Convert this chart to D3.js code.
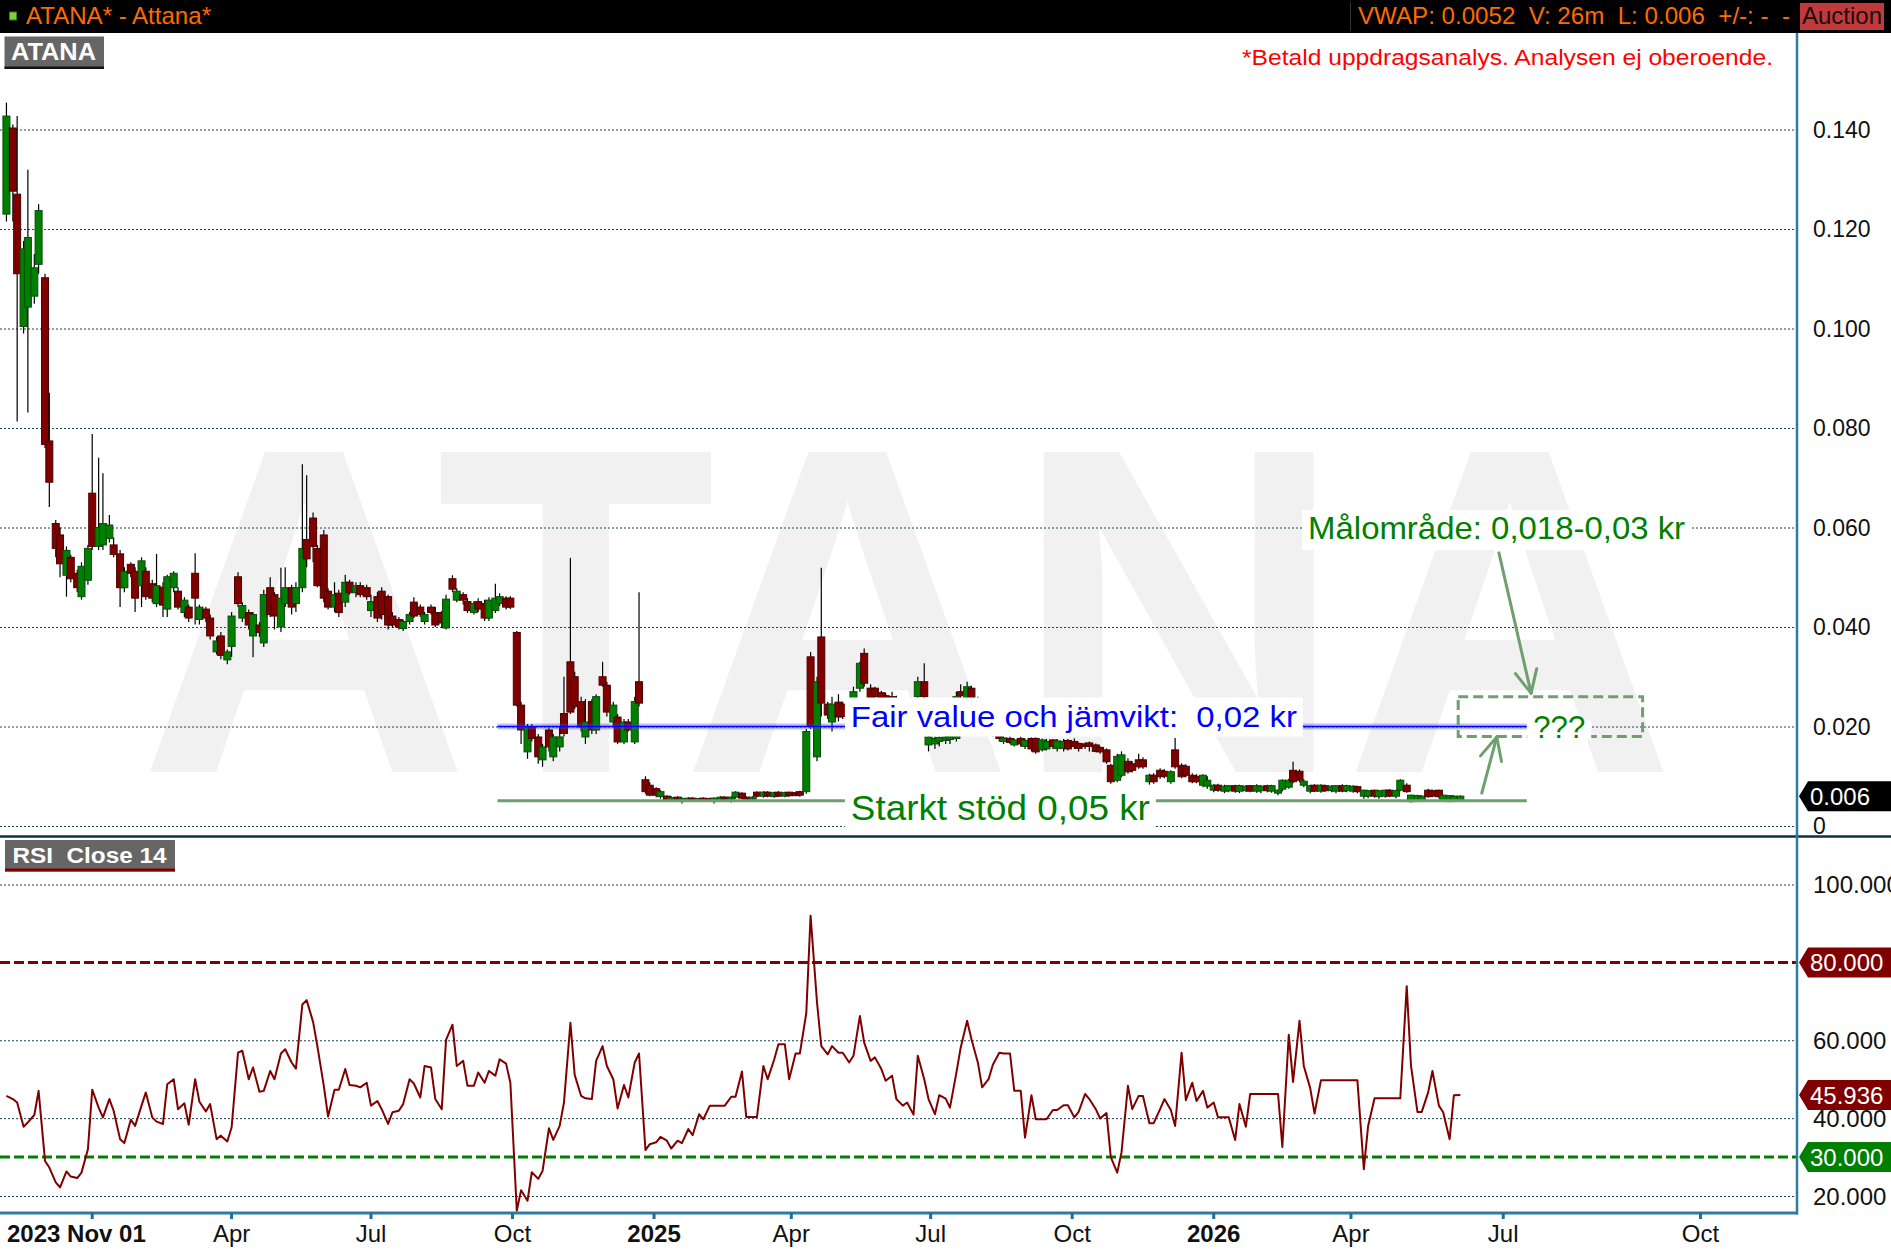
<!DOCTYPE html>
<html>
<head>
<meta charset="utf-8">
<script src="https://cdn.jsdelivr.net/npm/d3@7"></script>
<style>
  html, body { margin: 0; padding: 0; background: #fff; }
  svg { display: block; font-family: "Liberation Sans", Arial, sans-serif; }
</style>
</head>
<body>
<div id="chart"></div>
<script>
// ── Data ────────────────────────────────────────────────────────────────
const TICKER       = "ATANA";
const TITLE        = "ATANA* - Attana*";
const QUOTE_LINE   = "VWAP: 0.0052  V: 26m  L: 0.006  +/-: -  -";
const STATUS       = "Auction";
const NOTE         = "*Betald uppdragsanalys. Analysen ej oberoende.";
const RSI_TITLE    = "RSI  Close 14";

const START_DATE   = "2023-11-01";
const LAST_TRADE   = "2026-06-10";
const END_DATE     = "2026-11-15";
const CANDLE_FIRST = "2023-11-06";
const CANDLE_STOP  = "2026-06-12";

const START_LABEL  = "2023 Nov 01";
const TICK_DATES   = ["2024-01-01", "2024-04-01", "2024-07-01", "2024-10-01", "2025-01-01", "2025-04-01",
                      "2025-07-01", "2025-10-01", "2026-01-01", "2026-04-01", "2026-07-01", "2026-10-01"];
const TICK_LABELS  = ["", "Apr", "Jul", "Oct", "2025", "Apr", "Jul", "Oct", "2026", "Apr", "Jul", "Oct"];

const PRICE_TICKS  = [0, 0.02, 0.04, 0.06, 0.08, 0.10, 0.12, 0.14];
const RSI_TICKS    = [20, 40, 60, 100];
const RSI_HIGH     = 80;
const RSI_LOW      = 30;
const LAST_PRICE   = 0.006;
const LAST_RSI     = 45.936;

// candles, Monday + Thursday sessions: [open, high, low, close]
const PRICE_2023 = [
  [0.1230,0.1454,0.1215,0.1427],[0.1403,0.1410,0.1215,0.1276],[0.1270,0.1427,0.0813,0.1110],[0.1004,0.1176,0.0990,0.1160],
  [0.1043,0.1319,0.0831,0.1183],[0.1065,0.1150,0.1050,0.1122],[0.1129,0.1250,0.1110,0.1237],[0.1102,0.1110,0.0760,0.0767],
  [0.0774,0.0871,0.0641,0.0691],[0.0608,0.0615,0.0540,0.0558],[0.0585,0.0600,0.0500,0.0527],[0.0504,0.0562,0.0461,0.0554],
  [0.0540,0.0545,0.0490,0.0497],[0.0508,0.0515,0.0470,0.0479],[0.0461,0.0530,0.0455,0.0522],[0.0494,0.0565,0.0485,0.0558]
];
const PRICE_2024 = [
  [0.0669,0.0788,0.0555,0.0562],[0.0562,0.0740,0.0555,0.0600],[0.0565,0.0709,0.0555,0.0608],[0.0578,0.0625,0.0570,0.0605],
  [0.0565,0.0580,0.0540,0.0546],[0.0547,0.0555,0.0440,0.0479],[0.0479,0.0520,0.0470,0.0512],[0.0526,0.0530,0.0500,0.0508],
  [0.0512,0.0520,0.0430,0.0458],[0.0483,0.0540,0.0440,0.0533],[0.0512,0.0520,0.0455,0.0461],[0.0487,0.0495,0.0450,0.0458],
  [0.0447,0.0547,0.0440,0.0483],[0.0480,0.0490,0.0420,0.0444],[0.0436,0.0505,0.0420,0.0501],[0.0479,0.0512,0.0470,0.0508],
  [0.0472,0.0480,0.0435,0.0440],[0.0429,0.0460,0.0420,0.0454],[0.0440,0.0445,0.0410,0.0418],[0.0508,0.0548,0.0405,0.0458],
  [0.0415,0.0445,0.0405,0.0440],[0.0436,0.0440,0.0410,0.0418],[0.0418,0.0425,0.0375,0.0382],[0.0350,0.0380,0.0345,0.0372],
  [0.0382,0.0390,0.0335,0.0343],[0.0334,0.0355,0.0325,0.0350],[0.0361,0.0430,0.0340,0.0422],[0.0501,0.0510,0.0440,0.0447],
  [0.0418,0.0450,0.0410,0.0443],[0.0429,0.0435,0.0395,0.0404],[0.0382,0.0430,0.0339,0.0425],[0.0404,0.0410,0.0380,0.0389],
  [0.0368,0.0475,0.0360,0.0465],[0.0479,0.0500,0.0420,0.0425],[0.0465,0.0470,0.0395,0.0422],[0.0400,0.0519,0.0390,0.0458],
  [0.0447,0.0520,0.0440,0.0479],[0.0479,0.0485,0.0425,0.0440],[0.0447,0.0490,0.0430,0.0479],[0.0479,0.0727,0.0470,0.0558],
  [0.0576,0.0705,0.0520,0.0537],[0.0619,0.0630,0.0530,0.0562],[0.0558,0.0565,0.0480,0.0483],[0.0585,0.0595,0.0450,0.0458],
  [0.0472,0.0478,0.0435,0.0440],[0.0440,0.0490,0.0430,0.0465],[0.0468,0.0475,0.0420,0.0429],[0.0450,0.0505,0.0440,0.0490],
  [0.0490,0.0495,0.0465,0.0469],[0.0469,0.0490,0.0460,0.0483],[0.0483,0.0490,0.0460,0.0465],[0.0479,0.0485,0.0455,0.0461],
  [0.0433,0.0465,0.0420,0.0451],[0.0461,0.0470,0.0410,0.0418],[0.0472,0.0480,0.0415,0.0425],[0.0461,0.0465,0.0395,0.0404],
  [0.0422,0.0430,0.0398,0.0404],[0.0415,0.0420,0.0395,0.0400],[0.0397,0.0415,0.0392,0.0411],[0.0411,0.0430,0.0405,0.0425],
  [0.0450,0.0460,0.0418,0.0422],[0.0440,0.0445,0.0420,0.0425],[0.0411,0.0430,0.0405,0.0425],[0.0440,0.0445,0.0425,0.0429],
  [0.0429,0.0440,0.0400,0.0404],[0.0429,0.0432,0.0398,0.0408],[0.0398,0.0465,0.0395,0.0456],[0.0497,0.0504,0.0470,0.0476],
  [0.0454,0.0478,0.0450,0.0472],[0.0465,0.0470,0.0445,0.0454],[0.0451,0.0458,0.0428,0.0433],[0.0429,0.0452,0.0425,0.0447],
  [0.0451,0.0458,0.0430,0.0436],[0.0447,0.0455,0.0412,0.0418],[0.0418,0.0460,0.0412,0.0454],[0.0433,0.0487,0.0428,0.0458],
  [0.0447,0.0468,0.0442,0.0461],[0.0458,0.0462,0.0435,0.0440],[0.0458,0.0462,0.0436,0.0440],[0.0389,0.0392,0.0240,0.0243],
  [0.0243,0.0250,0.0165,0.0193],[0.0149,0.0205,0.0135,0.0199],[0.0199,0.0205,0.0170,0.0176],[0.0179,0.0185,0.0125,0.0139],
  [0.0133,0.0165,0.0119,0.0159],[0.0193,0.0198,0.0150,0.0159],[0.0139,0.0185,0.0130,0.0179],[0.0159,0.0200,0.0150,0.0179],
  [0.0226,0.0300,0.0180,0.0186],[0.0330,0.0539,0.0225,0.0229],[0.0300,0.0310,0.0235,0.0240],[0.0250,0.0260,0.0190,0.0199],
  [0.0179,0.0255,0.0165,0.0209],[0.0250,0.0255,0.0185,0.0193],[0.0193,0.0265,0.0185,0.0260],[0.0300,0.0330,0.0280,0.0283],
  [0.0283,0.0290,0.0220,0.0229],[0.0209,0.0250,0.0200,0.0243],[0.0219,0.0225,0.0165,0.0169],[0.0169,0.0215,0.0165,0.0209],
  [0.0209,0.0215,0.0190,0.0193],[0.0169,0.0260,0.0165,0.0250],[0.0290,0.0470,0.0240,0.0247],[0.0093,0.0100,0.0065,0.0069],
  [0.0082,0.0088,0.0060,0.0062]
];
const PRICE_2025 = [
  [0.0075,0.0078,0.0058,0.0062],[0.0059,0.0072,0.0055,0.0069],[0.0060,0.0062,0.0050,0.0053],[0.0053,0.0060,0.0050,0.0057],
  [0.0058,0.0060,0.0048,0.0052],[0.0050,0.0058,0.0045,0.0055],[0.0052,0.0058,0.0048,0.0056],[0.0056,0.0058,0.0050,0.0052],
  [0.0051,0.0057,0.0048,0.0055],[0.0056,0.0058,0.0049,0.0053],[0.0055,0.0057,0.0048,0.0052],[0.0052,0.0058,0.0045,0.0056],
  [0.0054,0.0060,0.0050,0.0058],[0.0058,0.0060,0.0048,0.0055],[0.0055,0.0060,0.0047,0.0058],[0.0058,0.0070,0.0055,0.0068],
  [0.0066,0.0068,0.0054,0.0056],[0.0058,0.0060,0.0048,0.0055],[0.0055,0.0060,0.0050,0.0058],[0.0068,0.0070,0.0058,0.0060],
  [0.0060,0.0070,0.0057,0.0068],[0.0068,0.0070,0.0058,0.0060],[0.0059,0.0069,0.0057,0.0067],[0.0068,0.0070,0.0059,0.0060],
  [0.0060,0.0069,0.0058,0.0067],[0.0068,0.0069,0.0059,0.0061],[0.0067,0.0069,0.0060,0.0061],[0.0069,0.0071,0.0059,0.0062],
  [0.0069,0.0195,0.0065,0.0190],[0.0340,0.0350,0.0195,0.0200],[0.0139,0.0300,0.0130,0.0290],[0.0380,0.0519,0.0220,0.0247],
  [0.0245,0.0250,0.0215,0.0223],[0.0209,0.0260,0.0190,0.0245],[0.0249,0.0265,0.0210,0.0219],[0.0245,0.0250,0.0215,0.0220],
  [0.0220,0.0255,0.0210,0.0245],[0.0240,0.0280,0.0235,0.0270],[0.0277,0.0330,0.0270,0.0327],[0.0347,0.0357,0.0280,0.0287],
  [0.0277,0.0285,0.0250,0.0256],[0.0277,0.0280,0.0255,0.0260],[0.0268,0.0272,0.0250,0.0256],[0.0262,0.0268,0.0245,0.0250],
  [0.0260,0.0270,0.0245,0.0250],[0.0255,0.0262,0.0240,0.0245],[0.0230,0.0250,0.0220,0.0245],[0.0245,0.0250,0.0220,0.0225],
  [0.0240,0.0245,0.0215,0.0220],[0.0260,0.0300,0.0255,0.0290],[0.0290,0.0327,0.0255,0.0260],[0.0163,0.0185,0.0150,0.0179],
  [0.0165,0.0180,0.0155,0.0176],[0.0170,0.0180,0.0160,0.0178],[0.0172,0.0182,0.0165,0.0179],[0.0174,0.0183,0.0165,0.0180],
  [0.0176,0.0270,0.0170,0.0260],[0.0270,0.0285,0.0250,0.0262],[0.0256,0.0290,0.0250,0.0280],[0.0277,0.0282,0.0250,0.0256],
  [0.0255,0.0260,0.0230,0.0235],[0.0235,0.0240,0.0215,0.0220],[0.0220,0.0225,0.0195,0.0200],[0.0200,0.0205,0.0180,0.0185],
  [0.0185,0.0190,0.0170,0.0176],[0.0170,0.0180,0.0165,0.0177],[0.0176,0.0180,0.0165,0.0168],[0.0163,0.0176,0.0160,0.0173],
  [0.0176,0.0180,0.0160,0.0165],[0.0160,0.0176,0.0155,0.0172],[0.0176,0.0178,0.0150,0.0155],[0.0176,0.0178,0.0145,0.0149],
  [0.0153,0.0176,0.0150,0.0173],[0.0155,0.0175,0.0152,0.0170],[0.0173,0.0175,0.0155,0.0160],[0.0156,0.0175,0.0150,0.0171],
  [0.0156,0.0175,0.0150,0.0170],[0.0172,0.0175,0.0152,0.0155],[0.0170,0.0176,0.0155,0.0160],[0.0166,0.0168,0.0150,0.0156],
  [0.0165,0.0168,0.0155,0.0160],[0.0167,0.0170,0.0150,0.0160],[0.0163,0.0166,0.0148,0.0150],[0.0158,0.0160,0.0145,0.0149],
  [0.0153,0.0156,0.0125,0.0129],[0.0122,0.0125,0.0085,0.0089],[0.0092,0.0145,0.0088,0.0140],[0.0102,0.0150,0.0098,0.0143],
  [0.0130,0.0136,0.0105,0.0109],[0.0125,0.0130,0.0108,0.0112],[0.0133,0.0145,0.0115,0.0119],[0.0133,0.0138,0.0115,0.0119],
  [0.0089,0.0105,0.0082,0.0102],[0.0102,0.0106,0.0085,0.0089],[0.0112,0.0116,0.0095,0.0099],[0.0110,0.0114,0.0096,0.0100],
  [0.0089,0.0112,0.0085,0.0109],[0.0153,0.0177,0.0115,0.0119],[0.0122,0.0126,0.0096,0.0099],[0.0120,0.0124,0.0098,0.0102],
  [0.0102,0.0106,0.0086,0.0089],[0.0100,0.0104,0.0086,0.0089],[0.0082,0.0104,0.0078,0.0102],[0.0080,0.0100,0.0075,0.0092]
];
const PRICE_2026 = [
  [0.0072,0.0084,0.0068,0.0082],[0.0082,0.0085,0.0069,0.0072],[0.0070,0.0083,0.0066,0.0080],[0.0071,0.0082,0.0068,0.0081],
  [0.0081,0.0083,0.0067,0.0070],[0.0070,0.0083,0.0066,0.0081],[0.0071,0.0082,0.0069,0.0080],[0.0081,0.0082,0.0068,0.0070],
  [0.0070,0.0084,0.0067,0.0081],[0.0071,0.0082,0.0066,0.0080],[0.0081,0.0083,0.0068,0.0071],[0.0070,0.0083,0.0067,0.0081],
  [0.0066,0.0074,0.0062,0.0072],[0.0074,0.0094,0.0070,0.0092],[0.0078,0.0095,0.0075,0.0092],[0.0112,0.0129,0.0086,0.0089],
  [0.0110,0.0114,0.0088,0.0092],[0.0082,0.0094,0.0078,0.0090],[0.0070,0.0083,0.0066,0.0081],[0.0082,0.0084,0.0068,0.0070],
  [0.0070,0.0084,0.0067,0.0082],[0.0081,0.0083,0.0069,0.0071],[0.0071,0.0082,0.0068,0.0080],[0.0070,0.0082,0.0066,0.0081],
  [0.0081,0.0084,0.0068,0.0070],[0.0071,0.0083,0.0068,0.0081],[0.0070,0.0082,0.0067,0.0080],[0.0079,0.0081,0.0066,0.0069],
  [0.0060,0.0073,0.0055,0.0072],[0.0060,0.0072,0.0056,0.0071],[0.0072,0.0073,0.0057,0.0060],[0.0059,0.0072,0.0055,0.0071],
  [0.0060,0.0073,0.0057,0.0072],[0.0072,0.0074,0.0058,0.0060],[0.0060,0.0073,0.0056,0.0071],[0.0072,0.0094,0.0070,0.0092],
  [0.0082,0.0086,0.0067,0.0069],[0.0049,0.0063,0.0047,0.0062],[0.0050,0.0063,0.0048,0.0061],[0.0051,0.0062,0.0048,0.0060],
  [0.0072,0.0075,0.0057,0.0059],[0.0071,0.0073,0.0058,0.0060],[0.0072,0.0073,0.0056,0.0059],[0.0050,0.0063,0.0048,0.0062],
  [0.0049,0.0062,0.0048,0.0061],[0.0050,0.0062,0.0048,0.0060],[0.0050,0.0062,0.0048,0.0060]
];

// RSI(14) on the same sessions
const RSI_2023 = [45.7,44.9,44.0,37.8,38.9,40.8,47.0,29.0,27.3,23.5,22.2,26.3,25.0,24.6,26.0,32.0];
const RSI_2024 = [
  47.3,42.7,40.2,44.9,41.9,34.6,33.6,39.6,38.0,43.2,46.6,40.2,39.1,38.5,48.7,50.0,42.3,43.8,38.3,50.0,
  44.2,41.7,43.6,34.6,35.5,34.0,37.6,56.8,57.3,50.0,53.0,46.8,47.0,52.1,50.0,56.6,57.7,54.3,52.7,69.2,
  70.3,64.7,58.5,48.3,40.4,47.3,47.3,52.6,48.5,48.3,47.9,49.1,43.2,44.4,42.3,38.5,41.5,41.9,43.6,50.0,
  48.9,45.3,53.4,53.0,44.9,42.3,60.1,64.0,53.4,54.7,48.3,48.3,51.7,49.1,52.1,50.9,55.1,54.0,49.1,16.2,
  21.5,18.8,26.1,24.4,26.4,37.4,34.4,38.0,44.0,64.5,51.1,45.7,45.1,44.9,54.7,58.5,53.4,50.0,42.5,48.5,
  45.3,54.3,56.6,31.8,33.3
];
const RSI_2025 = [
  33.8,35.2,34.2,32.2,34.2,33.6,37.2,35.6,41.0,39.7,43.2,43.2,43.2,43.2,45.5,45.5,52.0,40.3,40.3,40.3,
  53.4,50.0,55.0,59.0,59.0,50.0,56.6,56.6,67.0,92.0,69.7,58.5,56.4,58.5,56.8,56.8,54.3,56.0,66.2,59.4,
  54.7,55.6,52.6,49.6,50.9,44.9,43.2,44.0,40.9,56.0,50.0,44.9,41.0,45.9,45.0,42.7,51.7,58.1,65.0,60.3,
  54.3,47.9,50.0,53.7,56.8,56.6,56.6,47.0,47.0,35.0,45.9,39.7,39.7,39.7,42.1,42.1,43.3,43.3,40.2,41.6,
  46.2,44.9,42.3,39.9,41.3,30.0,26.0,31.2,48.3,42.3,45.7,45.7,38.7,38.7,42.3,44.9,42.1,38.0,56.8,44.6,
  49.1,44.4,47.0,42.7
];
const RSI_2026 = [
  44.0,40.2,40.2,40.2,34.4,43.6,37.8,46.2,46.2,46.2,46.2,46.2,46.2,32.6,61.4,49.3,65.0,53.4,47.7,41.2,
  49.7,49.7,49.7,49.7,49.7,49.7,49.7,49.7,26.9,38.0,45.1,45.1,45.1,45.1,45.1,45.1,73.9,53.4,41.6,41.6,
  46.6,52.1,43.2,41.5,34.6,45.9,45.936
];

// drawn analysis
const FAIR_VALUE     = 0.02;
const SUPPORT        = 0.0051;
const LEVEL_FROM     = "2024-09-20";
const LEVEL_TO       = "2026-07-12";
const LEVEL_LABEL_AT = "2025-05-06";
const FAIR_LABEL     = "Fair value och jämvikt:  0,02 kr";
const SUPPORT_LABEL  = "Starkt stöd 0,05 kr";
const TARGET_LABEL   = "Målområde: 0,018-0,03 kr";
const TARGET_AT      = "2026-03-04";
const TARGET_PRICE   = 0.06;
const ZONE_DATES     = ["2026-06-10", "2026-09-04"];
const ZONE_PRICES    = [0.018, 0.026];
const QUESTION       = "???";
const QUESTION_AT    = "2026-07-15";
const ARROW_DOWN     = [["2026-06-29", 0.0549], ["2026-07-14", 0.0267]];
const ARROW_UP       = [["2026-06-21", 0.0066], ["2026-06-28", 0.0179]];

// ── Layout ──────────────────────────────────────────────────────────────
const W = 1891, H = 1253;
const HEADER_H  = 33;
const PLOT_R    = 1797;
const PRICE_BOT = 836;
const RSI_TOP   = 838;
const RSI_BOT   = 1213;
const LABEL_X   = 1810;

const GRID    = "#1b4456";
const AXIS    = "#2f7ca3";
const UP      = "#008000", UP_EDGE = "#0a4a0a";
const DOWN    = "#800000", DOWN_EDGE = "#4a0000";
const NOTE_GREEN = "#6e9f6e";

const parse = d3.timeParse("%Y-%m-%d");
const START = parse(START_DATE), LAST = parse(LAST_TRADE), END = parse(END_DATE);

// trading-day slots up to the last session, calendar days afterwards
const weekdays = d3.timeDay.range(START, d3.timeDay.offset(LAST, 1)).filter(d => d.getDay() % 6 !== 0);
const slotMap = new Map(weekdays.map((d, i) => [+d, i]));
function slot(d) {
  if (d > LAST) return weekdays.length - 1 + d3.timeDay.count(LAST, d);
  const s = slotMap.get(+d);
  return s !== undefined ? s : d3.bisectLeft(weekdays, d) - 0.5;
}
const x  = d3.scaleLinear().domain([0, slot(END)]).range([0, PLOT_R]);
const xd = d => x(slot(typeof d === "string" ? parse(d) : d));
const y  = d3.scaleLinear().domain([0, 0.14]).range([826, 129.5]);
const yr = d3.scaleLinear().domain([20, 100]).range([1196, 884.5]);

// sessions
const monThu = (a, b) => d3.merge([d3.timeMonday.range(a, b), d3.timeThursday.range(a, b)]).sort(d3.ascending);
const spans = [
  [CANDLE_FIRST, "2024-01-01", PRICE_2023, RSI_2023],
  ["2024-01-01", "2025-01-01", PRICE_2024, RSI_2024],
  ["2025-01-01", "2026-01-01", PRICE_2025, RSI_2025],
  ["2026-01-01", CANDLE_STOP,  PRICE_2026, RSI_2026]
];
const candles = [], rsi = [];
spans.forEach(([a, b, px, rs]) => {
  monThu(parse(a), parse(b)).forEach((d, i) => {
    if (px[i]) candles.push({ date: d, o: px[i][0], h: px[i][1], l: px[i][2], c: px[i][3] });
    if (rs[i] != null) rsi.push({ date: d, v: rs[i] });
  });
});

const svg = d3.select("#chart").append("svg")
  .attr("width", W).attr("height", H).attr("viewBox", `0 0 ${W} ${H}`);

const defs = svg.append("defs");
defs.append("clipPath").attr("id", "clipPrice")
  .append("rect").attr("x", 0).attr("y", HEADER_H).attr("width", PLOT_R).attr("height", PRICE_BOT - HEADER_H);
defs.append("clipPath").attr("id", "clipRsi")
  .append("rect").attr("x", 0).attr("y", RSI_TOP).attr("width", PLOT_R).attr("height", RSI_BOT - RSI_TOP);

svg.append("rect").attr("width", W).attr("height", H).attr("fill", "#fff");

// ── Price pane ──────────────────────────────────────────────────────────
const price = svg.append("g").attr("clip-path", "url(#clipPrice)");

price.append("text")
  .attr("x", 907).attr("y", 772)
  .attr("text-anchor", "middle")
  .attr("font-size", 465).attr("font-weight", 700)
  .attr("textLength", 1537).attr("lengthAdjust", "spacingAndGlyphs")
  .attr("fill", "#f1f1f1")
  .text(TICKER);

price.selectAll("line.grid").data(PRICE_TICKS).join("line")
  .attr("class", "grid")
  .attr("x1", 0).attr("x2", PLOT_R)
  .attr("y1", d => y(d) + 0.5).attr("y2", d => y(d) + 0.5)
  .attr("stroke", GRID).attr("stroke-width", 1).attr("stroke-dasharray", "2,2");

const cg = price.selectAll("g.candle").data(candles).join("g").attr("class", "candle");
cg.append("line")
  .attr("x1", d => xd(d.date)).attr("x2", d => xd(d.date))
  .attr("y1", d => y(d.h)).attr("y2", d => y(d.l))
  .attr("stroke", "#000").attr("stroke-width", 1.2);
cg.append("rect")
  .attr("x", d => xd(d.date) - 3.5).attr("width", 7)
  .attr("y", d => y(Math.max(d.o, d.c)))
  .attr("height", d => Math.max(2, Math.abs(y(d.o) - y(d.c))))
  .attr("fill", d => d.c >= d.o ? UP : DOWN)
  .attr("stroke", d => d.c >= d.o ? UP_EDGE : DOWN_EDGE).attr("stroke-width", 1);

// fair value line
const fx1 = xd(LEVEL_FROM), fx2 = xd(LEVEL_TO);
svg.append("line")
  .attr("x1", fx1).attr("x2", fx2).attr("y1", y(FAIR_VALUE)).attr("y2", y(FAIR_VALUE))
  .attr("stroke", "rgba(70,70,255,0.35)").attr("stroke-width", 6);
svg.append("line")
  .attr("x1", fx1).attr("x2", fx2).attr("y1", y(FAIR_VALUE)).attr("y2", y(FAIR_VALUE))
  .attr("stroke", "#0000ff").attr("stroke-width", 1.6);

// support line
svg.append("line")
  .attr("x1", fx1).attr("x2", fx2).attr("y1", y(SUPPORT)).attr("y2", y(SUPPORT))
  .attr("stroke", NOTE_GREEN).attr("stroke-width", 3);

// target zone
svg.append("rect")
  .attr("x", xd(ZONE_DATES[0])).attr("width", xd(ZONE_DATES[1]) - xd(ZONE_DATES[0]))
  .attr("y", y(ZONE_PRICES[1])).attr("height", y(ZONE_PRICES[0]) - y(ZONE_PRICES[1]))
  .attr("fill", "none").attr("stroke", NOTE_GREEN).attr("stroke-width", 3)
  .attr("stroke-dasharray", "10,5");

function boxedText(tx, baseline, txt, size, len, color, padTop, padBot) {
  svg.append("rect")
    .attr("x", tx - 6).attr("y", baseline - padTop)
    .attr("width", len + 12).attr("height", padTop + padBot)
    .attr("fill", "#fff");
  svg.append("text")
    .attr("x", tx).attr("y", baseline)
    .attr("font-size", size).attr("fill", color)
    .attr("xml:space", "preserve").style("white-space", "pre")
    .attr("textLength", len).attr("lengthAdjust", "spacingAndGlyphs")
    .text(txt);
}

const lx = xd(LEVEL_LABEL_AT) + 6;
boxedText(lx, y(FAIR_VALUE), FAIR_LABEL, 30, 446, "#0000ff", 29, 10);
boxedText(lx, y(SUPPORT) + 19, SUPPORT_LABEL, 35, 299, "#008000", 35, 12);
boxedText(xd(TARGET_AT), y(TARGET_PRICE) + 11.5, TARGET_LABEL, 32, 377, "#008000", 29, 11);
boxedText(xd(QUESTION_AT), y(FAIR_VALUE) + 11, QUESTION, 31, 52, "#008000", 17, 2);

function arrow(pts) {
  const [a, b] = pts.map(([d, p]) => [xd(d), y(p)]);
  const ang = Math.atan2(b[1] - a[1], b[0] - a[0]);
  const g = svg.append("g").attr("stroke", NOTE_GREEN).attr("stroke-width", 3)
    .attr("fill", "none").attr("stroke-linecap", "round");
  g.append("line").attr("x1", a[0]).attr("y1", a[1]).attr("x2", b[0]).attr("y2", b[1]);
  [-0.45, 0.45].forEach(da => {
    g.append("line")
      .attr("x1", b[0]).attr("y1", b[1])
      .attr("x2", b[0] - 25 * Math.cos(ang + da)).attr("y2", b[1] - 25 * Math.sin(ang + da));
  });
}
arrow(ARROW_DOWN);
arrow(ARROW_UP);

// ── RSI pane ────────────────────────────────────────────────────────────
const rg = svg.append("g").attr("clip-path", "url(#clipRsi)");
rg.selectAll("line.grid").data(RSI_TICKS).join("line")
  .attr("class", "grid")
  .attr("x1", 0).attr("x2", PLOT_R)
  .attr("y1", d => yr(d) + 0.5).attr("y2", d => yr(d) + 0.5)
  .attr("stroke", GRID).attr("stroke-width", 1).attr("stroke-dasharray", "2,2");
rg.append("line")
  .attr("x1", 0).attr("x2", PLOT_R).attr("y1", yr(RSI_HIGH)).attr("y2", yr(RSI_HIGH))
  .attr("stroke", "#800000").attr("stroke-width", 3).attr("stroke-dasharray", "10,4");
rg.append("line")
  .attr("x1", 0).attr("x2", PLOT_R).attr("y1", yr(RSI_LOW)).attr("y2", yr(RSI_LOW))
  .attr("stroke", "#008000").attr("stroke-width", 3).attr("stroke-dasharray", "10,4");
rg.append("path")
  .datum(rsi)
  .attr("fill", "none").attr("stroke", "#800000").attr("stroke-width", 2)
  .attr("stroke-linejoin", "round")
  .attr("d", d3.line().x(d => xd(d.date)).y(d => yr(d.v)));

// ── Frames and axes ─────────────────────────────────────────────────────
svg.append("line").attr("x1", 0).attr("x2", W).attr("y1", PRICE_BOT + 0.5).attr("y2", PRICE_BOT + 0.5)
  .attr("stroke", "#12303f").attr("stroke-width", 2.5);
svg.append("line").attr("x1", PLOT_R).attr("x2", PLOT_R).attr("y1", HEADER_H).attr("y2", RSI_BOT + 1.5)
  .attr("stroke", AXIS).attr("stroke-width", 2.5);
svg.append("line").attr("x1", 0).attr("x2", PLOT_R + 1).attr("y1", RSI_BOT).attr("y2", RSI_BOT)
  .attr("stroke", AXIS).attr("stroke-width", 3);

svg.selectAll("text.py").data(PRICE_TICKS).join("text")
  .attr("class", "py")
  .attr("x", 1813).attr("y", d => y(d)).attr("dy", "0.36em")
  .attr("font-size", 23).attr("fill", "#111")
  .text(d => d === 0 ? "0" : d3.format(".3f")(d));

svg.selectAll("text.ry").data(RSI_TICKS).join("text")
  .attr("class", "ry")
  .attr("x", 1813).attr("y", d => yr(d)).attr("dy", "0.36em")
  .attr("font-size", 24).attr("fill", "#111")
  .text(d => d3.format(".3f")(d));

function tag(cy, txt, fill) {
  svg.append("path")
    .attr("d", `M${PLOT_R + 2},${cy} L${PLOT_R + 11},${cy - 15} H${W} V${cy + 15} H${PLOT_R + 11} Z`)
    .attr("fill", fill);
  svg.append("text")
    .attr("x", LABEL_X).attr("y", cy).attr("dy", "0.36em")
    .attr("font-size", 24).attr("fill", "#fff")
    .text(txt);
}
tag(y(LAST_PRICE), d3.format(".3f")(LAST_PRICE), "#000");
tag(yr(RSI_HIGH), d3.format(".3f")(RSI_HIGH), "#800000");
tag(yr(LAST_RSI), d3.format(".3f")(LAST_RSI), "#800000");
tag(yr(RSI_LOW), d3.format(".3f")(RSI_LOW), "#008000");

// time axis
TICK_DATES.forEach((d, i) => {
  const tx = xd(d);
  svg.append("rect").attr("x", tx - 1.5).attr("y", RSI_BOT).attr("width", 3).attr("height", 6).attr("fill", "#1f6e96");
  if (TICK_LABELS[i]) {
    svg.append("text")
      .attr("x", tx).attr("y", 1242)
      .attr("text-anchor", "middle")
      .attr("font-size", 24)
      .attr("font-weight", /^\d{4}$/.test(TICK_LABELS[i]) ? 700 : 400)
      .attr("fill", "#111")
      .text(TICK_LABELS[i]);
  }
});
svg.append("text")
  .attr("x", 7).attr("y", 1242)
  .attr("font-size", 24).attr("font-weight", 700).attr("fill", "#111")
  .text(START_LABEL);

// ── Labels ──────────────────────────────────────────────────────────────
svg.append("rect").attr("x", 4.5).attr("y", 36.5).attr("width", 99.5).attr("height", 32).attr("fill", "#666");
svg.append("rect").attr("x", 4.5).attr("y", 66.5).attr("width", 99.5).attr("height", 2.5).attr("fill", "#111");
svg.append("text").attr("x", 11).attr("y", 60)
  .attr("font-size", 23).attr("font-weight", 700).attr("fill", "#fff")
  .attr("textLength", 85).attr("lengthAdjust", "spacingAndGlyphs")
  .text(TICKER);

svg.append("rect").attr("x", 5).attr("y", 840).attr("width", 170).attr("height", 31.5).attr("fill", "#666");
svg.append("rect").attr("x", 5).attr("y", 868.5).attr("width", 170).attr("height", 3).attr("fill", "#800000");
svg.append("text").attr("x", 12.5).attr("y", 863)
  .attr("font-size", 22).attr("font-weight", 700).attr("fill", "#fff")
  .attr("xml:space", "preserve").style("white-space", "pre")
  .attr("textLength", 154).attr("lengthAdjust", "spacingAndGlyphs")
  .text(RSI_TITLE);

svg.append("text").attr("x", 1773).attr("y", 65)
  .attr("text-anchor", "end")
  .attr("font-size", 22).attr("fill", "#ff0000")
  .attr("textLength", 531).attr("lengthAdjust", "spacingAndGlyphs")
  .text(NOTE);

// header bar
svg.append("rect").attr("x", 0).attr("y", 0).attr("width", W).attr("height", HEADER_H).attr("fill", "#000");
svg.append("rect").attr("x", 9.5).attr("y", 12).attr("width", 7).attr("height", 8)
  .attr("fill", "#7fcf3f").attr("stroke", "#3c7a1c").attr("stroke-width", 1);
svg.append("text").attr("x", 26).attr("y", 24)
  .attr("font-size", 24).attr("fill", "#ff6a00")
  .attr("textLength", 185).attr("lengthAdjust", "spacingAndGlyphs")
  .text(TITLE);
svg.append("line").attr("x1", 1350.5).attr("x2", 1350.5).attr("y1", 2).attr("y2", 31)
  .attr("stroke", "#333").attr("stroke-width", 1);
svg.append("text").attr("x", 1358).attr("y", 24)
  .attr("font-size", 24).attr("fill", "#ff6a00")
  .attr("xml:space", "preserve").style("white-space", "pre")
  .attr("textLength", 432).attr("lengthAdjust", "spacingAndGlyphs")
  .text(QUOTE_LINE);
svg.append("rect").attr("x", 1800).attr("y", 3).attr("width", 84).attr("height", 27).attr("fill", "#c0393c");
svg.append("text").attr("x", 1842).attr("y", 24)
  .attr("text-anchor", "middle")
  .attr("font-size", 24).attr("fill", "#1a0b0b")
  .text(STATUS);
</script>
</body>
</html>
